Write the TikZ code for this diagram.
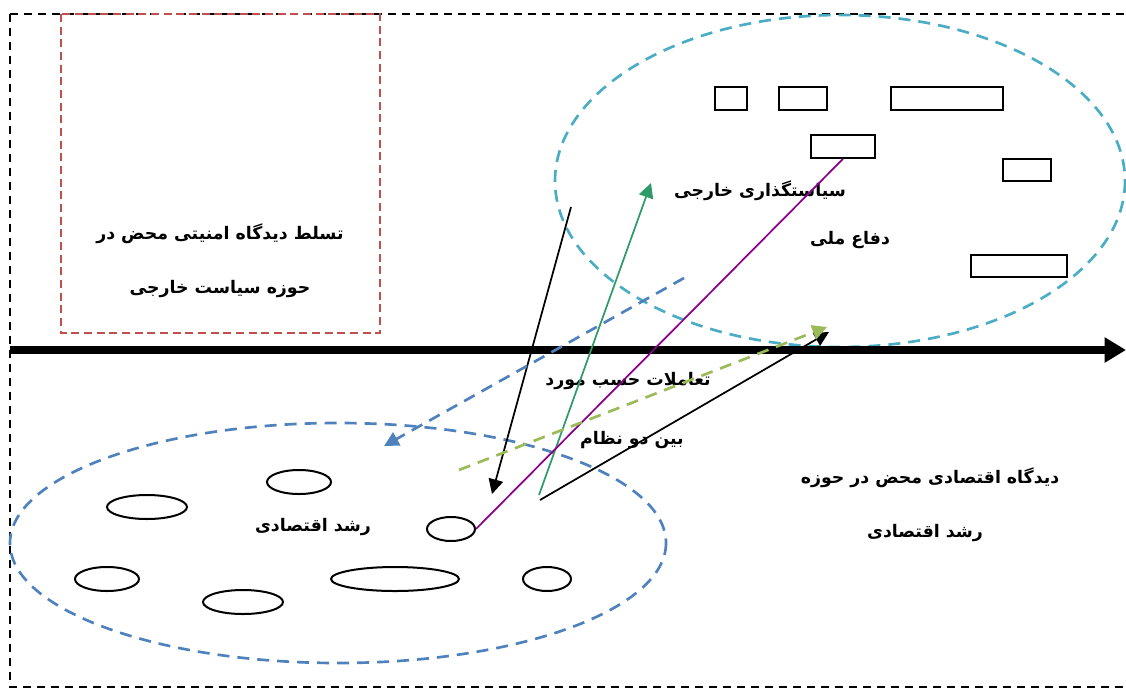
\documentclass[tikz,border=0pt]{standalone}
\usepackage{fontspec}
\newfontfamily\farsi[Script=Arabic]{DejaVu Sans}
\TeXXeTstate=1
\usetikzlibrary{arrows.meta,shapes.geometric}
\definecolor{redd}{HTML}{C0504D}
\definecolor{cyand}{HTML}{4BACC6}
\definecolor{blued}{HTML}{4F81BD}
\definecolor{lgreen}{HTML}{9BBB59}
\definecolor{greenar}{HTML}{2E9B68}
\definecolor{purp}{HTML}{8B008B}
\tikzset{
  lbl/.style={font=\farsi\bfseries\fontsize{13}{15}\selectfont, inner sep=0pt},
  smallrect/.style={draw=black, line width=1.5pt},
  smallell/.style={draw=black, line width=1.5pt},
  tri/.style={-{Triangle[length=11pt,width=11pt]}},
}
\begin{document}
\begin{tikzpicture}[x=0.75pt,y=-0.75pt]
\useasboundingbox (0,0) rectangle (1126,689);
% outer frame
\draw[black, line width=2pt, dash pattern=on 6pt off 4.5pt] (10,14) rectangle (1140,687);
% red box
\draw[redd, line width=2pt, dash pattern=on 6pt off 3.5pt] (61,14) rectangle (380,333);
\node[lbl] (t1) at (220,234) {\beginR تسلط دیدگاه امنیتی محض در\endR};
\node[lbl] (t2) at (220,289) {\beginR حوزه سیاست خارجی\endR};
% cyan ellipse
\draw[cyand, line width=2pt, dash pattern=on 9pt off 6pt] (840,181) ellipse [x radius=285, y radius=166];
% blue ellipse
\draw[blued, line width=2pt, dash pattern=on 9pt off 6pt] (338,543) ellipse [x radius=328, y radius=120];
% thick axis
\coordinate (axL) at (10,350);
\coordinate (axR) at (1126,350);
\draw[line width=6pt, -{Triangle[length=16pt,width=18pt]}] (axL) -- (axR);
% small rectangles
\node[smallrect, minimum width=24pt, minimum height=17pt, inner sep=0pt] (r1) at (731,98.5) {};
\node[smallrect, minimum width=36pt, minimum height=17pt, inner sep=0pt] (r2) at (803,98.5) {};
\node[smallrect, minimum width=84pt, minimum height=17pt, inner sep=0pt] (r3) at (947,98.5) {};
\node[smallrect, minimum width=48pt, minimum height=17pt, inner sep=0pt] (r4) at (843,146.5) {};
\node[smallrect, minimum width=36pt, minimum height=17pt, inner sep=0pt] (r5) at (1027,170) {};
\node[smallrect, minimum width=72pt, minimum height=17pt, inner sep=0pt] (r6) at (1019,266) {};
% small ellipses
\node[smallell, ellipse, minimum width=48pt, minimum height=18pt, inner sep=0pt] (e1) at (299,482) {};
\node[smallell, ellipse, minimum width=60pt, minimum height=18pt, inner sep=0pt] (e2) at (147,507) {};
\node[smallell, ellipse, minimum width=36pt, minimum height=18pt, inner sep=0pt] (e3) at (451,529) {};
\node[smallell, ellipse, minimum width=48pt, minimum height=18pt, inner sep=0pt] (e4) at (107,579) {};
\node[smallell, ellipse, minimum width=96pt, minimum height=18pt, inner sep=0pt] (e5) at (395,579) {};
\node[smallell, ellipse, minimum width=60pt, minimum height=18pt, inner sep=0pt] (e6) at (243,602) {};
\node[smallell, ellipse, minimum width=36pt, minimum height=18pt, inner sep=0pt] (e7) at (547,579) {};
% labels
\node[lbl] (l1) at (313,527) {\beginR رشد اقتصادی\endR};
\node[lbl] (l2) at (760,191) {\beginR سیاستگذاری خارجی\endR};
\node[lbl] (l3) at (850,240) {\beginR دفاع ملی\endR};
\node[lbl] (l4) at (628,381) {\beginR تعاملات حسب مورد\endR};
\node[lbl] (l5) at (632,440) {\beginR بین دو نظام\endR};
\node[lbl] (l6) at (930,478) {\beginR دیدگاه اقتصادی محض در حوزه\endR};
\node[lbl] (l7) at (925,533) {\beginR رشد اقتصادی\endR};
% connector endpoints
\coordinate (a1s) at (571,207);
\coordinate (a1e) at (492,494);
\coordinate (a2s) at (539,495);
\coordinate (a2e) at (651,183);
\coordinate (a3s) at (540,500);
\coordinate (a3e) at (829,332);
\coordinate (a4s) at (459,470);
\coordinate (a4e) at (827,327);
\coordinate (a5s) at (684,278);
\coordinate (a5e) at (384,446);
% arrows
\draw[black, line width=1.3pt, tri] (a1s) -- (a1e);
\draw[greenar, line width=1.3pt, tri] (a2s) -- (a2e);
\draw[purp, line width=1.3pt] (e3.east) -- (r4.south);
\draw[black, line width=1.3pt, tri] (a3s) -- (a3e);
\draw[lgreen, line width=2pt, dash pattern=on 9pt off 6pt, tri] (a4s) -- (a4e);
\draw[blued, line width=2pt, dash pattern=on 9pt off 6pt, tri] (a5s) -- (a5e);
\end{tikzpicture}
\end{document}
